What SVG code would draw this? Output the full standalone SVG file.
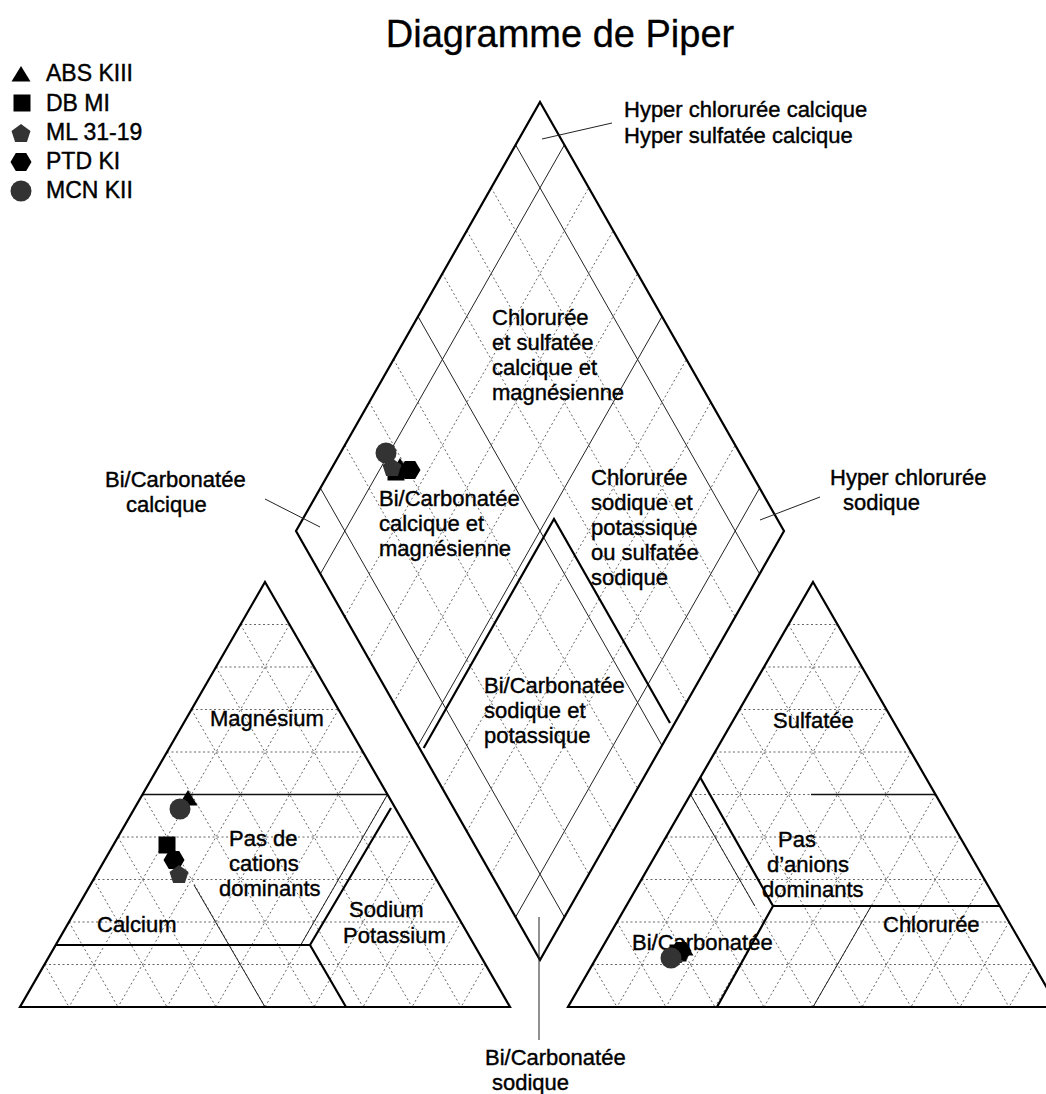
<svg xmlns="http://www.w3.org/2000/svg" xmlns:xlink="http://www.w3.org/1999/xlink" width="1046" height="1094" viewBox="0 0 1046 1094">
<style>
text{font-family:"Liberation Sans",Arial,sans-serif;font-size:22px;fill:#000;stroke:#000;stroke-width:0.4}
.title{font-size:38px;stroke-width:0.3}
.leg{font-size:23px}
.frame{fill:none;stroke:#000;stroke-width:2.2;stroke-linejoin:miter}
.grid{fill:none;stroke:#555;stroke-width:0.9;stroke-dasharray:2 2.5}
.thin{fill:none;stroke:#222;stroke-width:1}
.mid{fill:none;stroke:#111;stroke-width:1.4}
.thick{fill:none;stroke:#000;stroke-width:2.2}
.lead{fill:none;stroke:#222;stroke-width:1}
.mk{fill:#000}
.mkg{fill:#333}
</style>
<defs>
<g id="tgrid">
<path class="grid" d="M44.5 964.5H485.5M69 922H461M93.5 879.5H436.5M118 837H412M142.5 794.5H387.5M167 752H363M191.5 709.5H338.5M216 667H314M240.5 624.5H289.5"/>
<path class="grid" d="M44.5 964.5L69 1007M69 922L118 1007M93.5 879.5L167 1007M118 837L216 1007M142.5 794.5L265 1007M167 752L314 1007M191.5 709.5L363 1007M216 667L412 1007M240.5 624.5L461 1007"/>
<path class="grid" d="M485.5 964.5L461 1007M461 922L412 1007M436.5 879.5L363 1007M412 837L314 1007M387.5 794.5L265 1007M363 752L216 1007M338.5 709.5L167 1007M314 667L118 1007M289.5 624.5L69 1007"/>
</g>
<polygon id="s-tri" points="0,-8 9.5,7.5 -9.5,7.5"/>
<rect id="s-sq" x="-8.5" y="-8.5" width="17" height="17"/>
<polygon id="s-pent" points="0,-10 9.5,-3.1 5.9,8.1 -5.9,8.1 -9.5,-3.1"/>
<polygon id="s-hex" points="-10.5,0 -5.2,-9 5.2,-9 10.5,0 5.2,9 -5.2,9"/>
<circle id="s-circ" r="10.5"/>
</defs>

<g id="title"><text class="title" x="560" y="47" text-anchor="middle">Diagramme de Piper</text></g>

<g id="legend">
<use xlink:href="#s-tri" class="mk" x="21" y="74"/>
<text class="leg" x="46" y="81">ABS KIII</text>
<use xlink:href="#s-sq" class="mk" x="22" y="103"/>
<text class="leg" x="46" y="110.5">DB MI</text>
<use xlink:href="#s-pent" class="mkg" x="21" y="134"/>
<text class="leg" x="46" y="140">ML 31-19</text>
<use xlink:href="#s-hex" class="mk" x="21" y="162"/>
<text class="leg" x="46" y="169">PTD KI</text>
<use xlink:href="#s-circ" class="mkg" x="21" y="191"/>
<text class="leg" x="46" y="198">MCN KII</text>
</g>

<g id="diamond">
<path class="grid" d="M344.8 445.2L588.8 874.2M369.2 402.3L613.2 831.3M393.6 359.4L637.6 788.4M442.4 273.6L686.4 702.6M466.8 230.7L710.8 659.7M491.2 187.8L735.2 616.8"/>
<path class="grid" d="M344.8 616.8L588.8 187.8M369.2 659.7L613.2 230.7M393.6 702.6L637.6 273.6M442.4 788.4L686.4 359.4M466.8 831.3L710.8 402.3M491.2 874.2L735.2 445.2"/>
<path class="thin" d="M320.4 488.1L564.4 917.1M418 316.5L662 745.5M515.6 144.9L759.6 573.9M320.4 573.9L564.4 144.9M418 745.5L662 316.5M515.6 917.1L759.6 488.1"/>
<path class="thick" d="M423.7 748L554 519L670 723"/>
<path class="frame" d="M540 102L784 531L540 960L296 531Z"/>
</g>

<g id="cation-triangle">
<use xlink:href="#tgrid"/>
<path class="mid" d="M142.5 794.5H387.5"/>
<path class="thin" d="M387.5 794.5L300.7 945M194 885L265 1007"/>
<path class="thick" d="M55.7 945H310L391 808M310 945L346 1007"/>
<path class="frame" d="M265 582L510 1007H20Z"/>
</g>

<g id="anion-triangle">
<use xlink:href="#tgrid" transform="translate(548,0)"/>
<path class="mid" d="M811 794.5H935.5"/>
<path class="thin" d="M690.5 794.5L754.8 906M813 1007L871.2 906"/>
<path class="thick" d="M700 777L773 906H999.8M773 906L717 1007"/>
<path class="frame" d="M813 582L1058 1007H568Z"/>
</g>

<g id="connectors">
<path class="lead" d="M542 139L612 123"/>
<path class="lead" d="M265 499L320 527"/>
<path class="lead" d="M760 520L820 497"/>
<path class="lead" d="M539 917V1040"/>
</g>

<g id="labels">
<text x="624" y="117">Hyper chlorurée calcique</text>
<text x="624" y="143">Hyper sulfatée calcique</text>
<text x="105" y="487">Bi/Carbonatée</text>
<text x="126" y="512">calcique</text>
<text x="830" y="485">Hyper chlorurée</text>
<text x="843" y="510">sodique</text>
<text x="492" y="325">Chlorurée</text>
<text x="492" y="350">et sulfatée</text>
<text x="492" y="375">calcique et</text>
<text x="492" y="400">magnésienne</text>
<text x="379" y="506">Bi/Carbonatée</text>
<text x="379" y="531">calcique et</text>
<text x="379" y="556">magnésienne</text>
<text x="591" y="485">Chlorurée</text>
<text x="591" y="510">sodique et</text>
<text x="591" y="535">potassique</text>
<text x="591" y="560">ou sulfatée</text>
<text x="591" y="585">sodique</text>
<text x="484" y="693">Bi/Carbonatée</text>
<text x="484" y="718">sodique et</text>
<text x="484" y="743">potassique</text>
<text x="210" y="726">Magnésium</text>
<text x="229" y="846">Pas de</text>
<text x="229" y="871">cations</text>
<text x="219" y="896">dominants</text>
<text x="97" y="932">Calcium</text>
<text x="349" y="917">Sodium</text>
<text x="343" y="943">Potassium</text>
<text x="773" y="728">Sulfatée</text>
<text x="778" y="847">Pas</text>
<text x="767" y="872">d’anions</text>
<text x="762" y="897">dominants</text>
<text x="883" y="932">Chlorurée</text>
<text x="632" y="950">Bi/Carbonatée</text>
<text x="485" y="1065">Bi/Carbonatée</text>
<text x="492" y="1090">sodique</text>
</g>

<g id="data">
<use xlink:href="#s-tri" class="mk" x="188" y="798"/>
<use xlink:href="#s-circ" class="mkg" x="180" y="809"/>
<use xlink:href="#s-sq" class="mk" x="167" y="845"/>
<use xlink:href="#s-hex" class="mk" x="174" y="860"/>
<use xlink:href="#s-pent" class="mkg" x="179" y="875"/>
<use xlink:href="#s-tri" class="mk" x="400" y="466"/>
<use xlink:href="#s-sq" class="mk" x="396" y="472"/>
<use xlink:href="#s-pent" class="mkg" x="392" y="468"/>
<use xlink:href="#s-hex" class="mk" x="410" y="470"/>
<use xlink:href="#s-circ" class="mkg" x="386" y="453"/>
<use xlink:href="#s-tri" class="mk" x="684" y="948"/>
<use xlink:href="#s-sq" class="mk" x="678" y="953"/>
<use xlink:href="#s-pent" class="mkg" x="676" y="955"/>
<use xlink:href="#s-hex" class="mk" x="681" y="951"/>
<use xlink:href="#s-circ" class="mkg" x="671" y="958"/>
</g>
</svg>
